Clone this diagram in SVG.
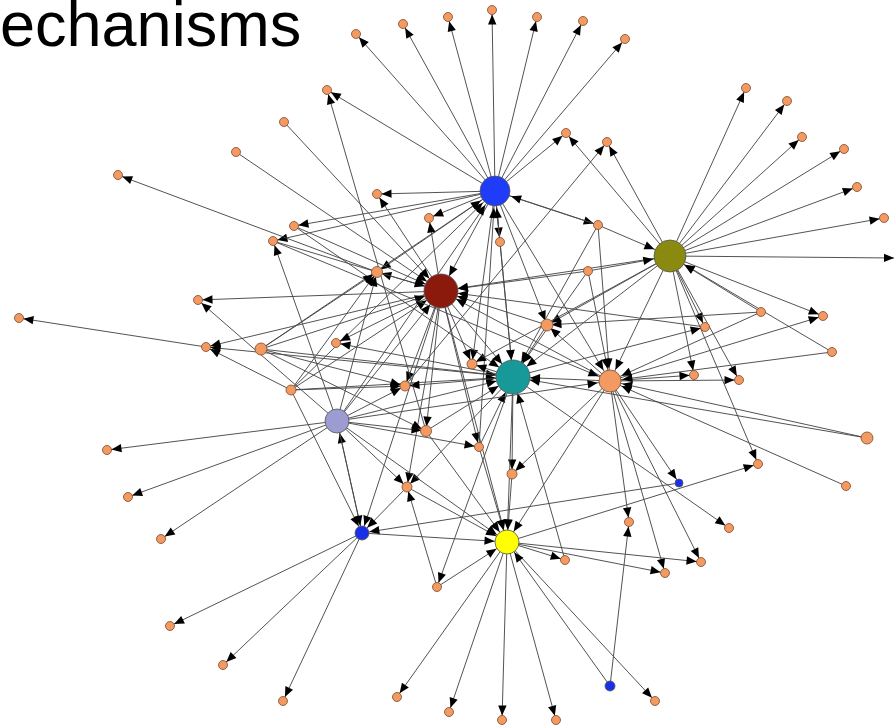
<svg xmlns="http://www.w3.org/2000/svg" width="896" height="727" viewBox="0 0 896 727">
<style>
  .bg{fill:#ffffff}
  .title{font-family:"Liberation Sans",Arial,sans-serif;font-size:63px;fill:#000}
  #edges line{stroke:#4a4a4a;stroke-width:0.95;fill:none}
  #edges .l{marker-end:url(#aL)}
  #edges .s{marker-end:url(#aS)}
  #edges .m{marker-end:url(#aM)}
  #edges .h{marker-end:url(#aH)}
  #edges .x{marker-end:url(#aX)}
  .leaf{fill:#f39a62;stroke:#7a4a2a;stroke-width:0.8}
  .hub{stroke:#555;stroke-width:0.8}
</style>
<defs>
  <!-- arrowheads set back by the radius of the node they point at -->
  <marker id="aL" markerUnits="userSpaceOnUse" markerWidth="20" markerHeight="20" refX="14.5" refY="0" orient="auto" overflow="visible"><path d="M0,-4.2 L10,0 L0,4.2 z" fill="#000"/></marker>
  <marker id="aS" markerUnits="userSpaceOnUse" markerWidth="20" markerHeight="20" refX="17.5" refY="0" orient="auto" overflow="visible"><path d="M0,-4.2 L10,0 L0,4.2 z" fill="#000"/></marker>
  <marker id="aM" markerUnits="userSpaceOnUse" markerWidth="20" markerHeight="20" refX="22.5" refY="0" orient="auto" overflow="visible"><path d="M0,-4.2 L10,0 L0,4.2 z" fill="#000"/></marker>
  <marker id="aH" markerUnits="userSpaceOnUse" markerWidth="20" markerHeight="20" refX="27" refY="0" orient="auto" overflow="visible"><path d="M0,-4.2 L10,0 L0,4.2 z" fill="#000"/></marker>
  <marker id="aX" markerUnits="userSpaceOnUse" markerWidth="20" markerHeight="20" refX="10" refY="0" orient="auto" overflow="visible"><path d="M0,-4.2 L10,0 L0,4.2 z" fill="#000"/></marker>
</defs>
<rect class="bg" x="0" y="0" width="896" height="727"/>
<text class="title" x="0" y="46">echanisms</text>

<g id="edges">
  <!-- blue hub -->
  <line class="l" x1="495" y1="191" x2="356" y2="34"/>
  <line class="l" x1="495" y1="191" x2="403" y2="24"/>
  <line class="l" x1="495" y1="191" x2="448" y2="17"/>
  <line class="l" x1="495" y1="191" x2="492" y2="10"/>
  <line class="l" x1="495" y1="191" x2="537" y2="17"/>
  <line class="l" x1="495" y1="191" x2="583" y2="21"/>
  <line class="l" x1="495" y1="191" x2="625" y2="39"/>
  <line class="l" x1="495" y1="191" x2="327" y2="90"/>
  <line class="l" x1="495" y1="191" x2="377" y2="194"/>
  <line class="l" x1="495" y1="191" x2="429" y2="218"/>
  <line class="l" x1="495" y1="191" x2="500" y2="242"/>
  <line class="l" x1="495" y1="191" x2="598" y2="225"/>
  <line class="l" x1="495" y1="191" x2="566" y2="133"/>
  <line class="l" x1="495" y1="191" x2="294" y2="226"/>
  <line class="l" x1="495" y1="191" x2="273" y2="241"/>
  <line class="h" x1="495" y1="191" x2="441" y2="291"/>
  <line class="l" x1="495" y1="191" x2="472" y2="364"/>
  <line class="l" x1="495" y1="191" x2="547" y2="325"/>
  <line class="h" x1="495" y1="191" x2="513" y2="377"/>
  <line class="l" x1="495" y1="191" x2="377" y2="272"/>
  <line class="m" x1="495" y1="191" x2="610" y2="381"/>
  <line class="h" x1="598" y1="225" x2="495" y2="191"/>
  <line class="h" x1="500" y1="242" x2="495" y2="191"/>
  <line class="h" x1="337" y1="421" x2="495" y2="191"/>
  <line class="h" x1="291" y1="390" x2="495" y2="191"/>
  <line class="h" x1="261" y1="349" x2="495" y2="191"/>
  <line class="h" x1="479" y1="447" x2="495" y2="191"/>
  <!-- dark red hub -->
  <line class="h" x1="284" y1="122" x2="441" y2="291"/>
  <line class="h" x1="236" y1="152" x2="441" y2="291"/>
  <line class="l" x1="441" y1="291" x2="198" y2="300"/>
  <line class="l" x1="441" y1="291" x2="206" y2="347"/>
  <line class="h" x1="261" y1="349" x2="441" y2="291"/>
  <line class="l" x1="441" y1="291" x2="377" y2="272"/>
  <line class="h" x1="588" y1="271" x2="441" y2="291"/>
  <line class="l" x1="441" y1="291" x2="336" y2="343"/>
  <line class="l" x1="441" y1="291" x2="405" y2="386"/>
  <line class="l" x1="441" y1="291" x2="426" y2="431"/>
  <line class="l" x1="441" y1="291" x2="407" y2="487"/>
  <line class="l" x1="441" y1="291" x2="479" y2="447"/>
  <line class="l" x1="441" y1="291" x2="472" y2="364"/>
  <line class="h" x1="441" y1="291" x2="513" y2="377"/>
  <line class="m" x1="441" y1="291" x2="507" y2="542"/>
  <line class="s" x1="441" y1="291" x2="362" y2="533"/>
  <line class="l" x1="441" y1="291" x2="377" y2="194"/>
  <line class="l" x1="441" y1="291" x2="429" y2="218"/>
  <line class="h" x1="294" y1="226" x2="441" y2="291"/>
  <line class="h" x1="273" y1="241" x2="441" y2="291"/>
  <line class="h" x1="337" y1="421" x2="441" y2="291"/>
  <line class="h" x1="291" y1="390" x2="441" y2="291"/>
  <line class="h" x1="547" y1="325" x2="441" y2="291"/>
  <line class="h" x1="610" y1="381" x2="441" y2="291"/>
  <line class="h" x1="670" y1="256" x2="441" y2="291"/>
  <line class="h" x1="705" y1="327" x2="441" y2="291"/>
  <!-- olive hub -->
  <line class="l" x1="670" y1="256" x2="746" y2="88"/>
  <line class="l" x1="670" y1="256" x2="787" y2="101"/>
  <line class="l" x1="670" y1="256" x2="802" y2="137"/>
  <line class="l" x1="670" y1="256" x2="844" y2="149"/>
  <line class="l" x1="670" y1="256" x2="857" y2="187"/>
  <line class="l" x1="670" y1="256" x2="884" y2="218"/>
  <line class="x" x1="670" y1="256" x2="894" y2="258"/>
  <line class="l" x1="670" y1="256" x2="607" y2="142"/>
  <line class="h" x1="598" y1="225" x2="670" y2="256"/>
  <line class="l" x1="670" y1="256" x2="566" y2="133"/>
  <line class="h" x1="588" y1="271" x2="670" y2="256"/>
  <line class="h" x1="761" y1="312" x2="670" y2="256"/>
  <line class="l" x1="670" y1="256" x2="823" y2="316"/>
  <line class="l" x1="670" y1="256" x2="705" y2="327"/>
  <line class="h" x1="832" y1="352" x2="670" y2="256"/>
  <line class="l" x1="670" y1="256" x2="694" y2="375"/>
  <line class="l" x1="670" y1="256" x2="739" y2="380"/>
  <line class="l" x1="670" y1="256" x2="758" y2="464"/>
  <line class="m" x1="670" y1="256" x2="610" y2="381"/>
  <line class="l" x1="670" y1="256" x2="547" y2="325"/>
  <line class="h" x1="670" y1="256" x2="513" y2="377"/>
  <line class="l" x1="670" y1="256" x2="472" y2="364"/>
  <!-- teal hub -->
  <line class="h" x1="547" y1="325" x2="513" y2="377"/>
  <line class="h" x1="500" y1="242" x2="513" y2="377"/>
  <line class="h" x1="588" y1="271" x2="513" y2="377"/>
  <line class="h" x1="610" y1="381" x2="513" y2="377"/>
  <line class="h" x1="426" y1="431" x2="513" y2="377"/>
  <line class="h" x1="479" y1="447" x2="513" y2="377"/>
  <line class="h" x1="337" y1="421" x2="513" y2="377"/>
  <line class="h" x1="261" y1="349" x2="513" y2="377"/>
  <line class="h" x1="291" y1="390" x2="513" y2="377"/>
  <line class="h" x1="294" y1="226" x2="513" y2="377"/>
  <line class="h" x1="565" y1="560" x2="513" y2="377"/>
  <line class="h" x1="598" y1="225" x2="513" y2="377"/>
  <line class="h" x1="867" y1="438" x2="513" y2="377"/>
  <line class="l" x1="513" y1="377" x2="472" y2="364"/>
  <line class="l" x1="513" y1="377" x2="405" y2="386"/>
  <line class="l" x1="513" y1="377" x2="512" y2="474"/>
  <line class="m" x1="513" y1="377" x2="507" y2="542"/>
  <line class="l" x1="513" y1="377" x2="206" y2="347"/>
  <line class="l" x1="513" y1="377" x2="705" y2="327"/>
  <line class="l" x1="513" y1="377" x2="729" y2="528"/>
  <line class="l" x1="513" y1="377" x2="437" y2="587"/>
  <line class="l" x1="513" y1="377" x2="336" y2="343"/>
  <line class="l" x1="513" y1="377" x2="407" y2="487"/>
  <!-- orange hub -->
  <line class="l" x1="610" y1="381" x2="823" y2="316"/>
  <line class="l" x1="610" y1="381" x2="694" y2="375"/>
  <line class="l" x1="610" y1="381" x2="739" y2="380"/>
  <line class="l" x1="610" y1="381" x2="679" y2="483"/>
  <line class="l" x1="610" y1="381" x2="629" y2="522"/>
  <line class="l" x1="610" y1="381" x2="701" y2="562"/>
  <line class="l" x1="610" y1="381" x2="665" y2="573"/>
  <line class="m" x1="610" y1="381" x2="507" y2="542"/>
  <line class="l" x1="610" y1="381" x2="512" y2="474"/>
  <line class="l" x1="610" y1="381" x2="547" y2="325"/>
  <line class="m" x1="761" y1="312" x2="610" y2="381"/>
  <line class="m" x1="832" y1="352" x2="610" y2="381"/>
  <line class="m" x1="867" y1="438" x2="610" y2="381"/>
  <line class="m" x1="846" y1="486" x2="610" y2="381"/>
  <line class="m" x1="588" y1="271" x2="610" y2="381"/>
  <line class="m" x1="598" y1="225" x2="610" y2="381"/>
  <line class="m" x1="337" y1="421" x2="610" y2="381"/>
  <line class="m" x1="273" y1="241" x2="610" y2="381"/>
  <!-- remaining links -->
  <line class="l" x1="377" y1="272" x2="118" y2="175"/>
  <line class="l" x1="206" y1="347" x2="19" y2="318"/>
  <line class="l" x1="337" y1="421" x2="198" y2="300"/>
  <line class="l" x1="291" y1="390" x2="206" y2="347"/>
  <line class="l" x1="261" y1="349" x2="377" y2="272"/>
  <line class="l" x1="426" y1="431" x2="327" y2="90"/>
  <line class="l" x1="405" y1="386" x2="607" y2="142"/>
  <line class="l" x1="761" y1="312" x2="547" y2="325"/>
  <line class="l" x1="337" y1="421" x2="273" y2="241"/>
  <line class="l" x1="291" y1="390" x2="377" y2="272"/>
  <line class="l" x1="337" y1="421" x2="377" y2="272"/>
  <line class="l" x1="337" y1="421" x2="405" y2="386"/>
  <line class="l" x1="337" y1="421" x2="426" y2="431"/>
  <line class="l" x1="337" y1="421" x2="479" y2="447"/>
  <line class="l" x1="337" y1="421" x2="407" y2="487"/>
  <line class="l" x1="261" y1="349" x2="405" y2="386"/>
  <line class="l" x1="291" y1="390" x2="405" y2="386"/>
  <line class="l" x1="261" y1="349" x2="426" y2="431"/>
  <line class="m" x1="362" y1="533" x2="337" y2="421"/>
  <line class="s" x1="337" y1="421" x2="362" y2="533"/>
  <line class="s" x1="291" y1="390" x2="362" y2="533"/>
  <line class="s" x1="407" y1="487" x2="362" y2="533"/>
  <line class="s" x1="679" y1="483" x2="362" y2="533"/>
  <line class="m" x1="362" y1="533" x2="507" y2="542"/>
  <line class="l" x1="362" y1="533" x2="170" y2="626"/>
  <line class="l" x1="362" y1="533" x2="223" y2="665"/>
  <line class="l" x1="362" y1="533" x2="283" y2="701"/>
  <line class="l" x1="337" y1="421" x2="107" y2="450"/>
  <line class="l" x1="337" y1="421" x2="128" y2="497"/>
  <line class="l" x1="337" y1="421" x2="161" y2="539"/>
  <line class="l" x1="507" y1="542" x2="397" y2="697"/>
  <line class="l" x1="507" y1="542" x2="449" y2="712"/>
  <line class="l" x1="507" y1="542" x2="502" y2="720"/>
  <line class="l" x1="507" y1="542" x2="556" y2="720"/>
  <line class="l" x1="507" y1="542" x2="655" y2="701"/>
  <line class="m" x1="610" y1="686" x2="507" y2="542"/>
  <line class="l" x1="507" y1="542" x2="565" y2="560"/>
  <line class="l" x1="507" y1="542" x2="701" y2="562"/>
  <line class="l" x1="507" y1="542" x2="665" y2="573"/>
  <line class="l" x1="507" y1="542" x2="758" y2="464"/>
  <line class="m" x1="437" y1="587" x2="507" y2="542"/>
  <line class="m" x1="407" y1="487" x2="507" y2="542"/>
  <line class="m" x1="426" y1="431" x2="507" y2="542"/>
  <line class="m" x1="479" y1="447" x2="507" y2="542"/>
  <line class="m" x1="512" y1="474" x2="507" y2="542"/>
  <line class="m" x1="337" y1="421" x2="507" y2="542"/>
  <line class="l" x1="437" y1="587" x2="407" y2="487"/>
  <line class="l" x1="610" y1="686" x2="629" y2="522"/>
</g>

<g id="leaves">
  <g id="n1"><circle class="leaf" cx="356" cy="34" r="4.5"/></g>
  <g id="n2"><circle class="leaf" cx="403" cy="24" r="4.5"/></g>
  <g id="n3"><circle class="leaf" cx="448" cy="17" r="4.5"/></g>
  <g id="n4"><circle class="leaf" cx="492" cy="10" r="4.5"/></g>
  <g id="n5"><circle class="leaf" cx="537" cy="17" r="4.5"/></g>
  <g id="n6"><circle class="leaf" cx="583" cy="21" r="4.5"/></g>
  <g id="n7"><circle class="leaf" cx="625" cy="39" r="4.5"/></g>
  <g id="n8"><circle class="leaf" cx="327" cy="90" r="4.5"/></g>
  <g id="n9"><circle class="leaf" cx="284" cy="122" r="4.5"/></g>
  <g id="n10"><circle class="leaf" cx="236" cy="152" r="4.5"/></g>
  <g id="n11"><circle class="leaf" cx="118" cy="175" r="4.5"/></g>
  <g id="n12"><circle class="leaf" cx="566" cy="133" r="4.5"/></g>
  <g id="n13"><circle class="leaf" cx="607" cy="142" r="4.5"/></g>
  <g id="n14"><circle class="leaf" cx="746" cy="88" r="4.5"/></g>
  <g id="n15"><circle class="leaf" cx="787" cy="101" r="4.5"/></g>
  <g id="n16"><circle class="leaf" cx="802" cy="137" r="4.5"/></g>
  <g id="n17"><circle class="leaf" cx="844" cy="149" r="4.5"/></g>
  <g id="n18"><circle class="leaf" cx="857" cy="187" r="4.5"/></g>
  <g id="n19"><circle class="leaf" cx="884" cy="218" r="4.5"/></g>
  <g id="n20"><circle class="leaf" cx="377" cy="194" r="4.5"/></g>
  <g id="n21"><circle class="leaf" cx="429" cy="218" r="4.5"/></g>
  <g id="n22"><circle class="leaf" cx="500" cy="242" r="4.5"/></g>
  <g id="n23"><circle class="leaf" cx="598" cy="225" r="4.5"/></g>
  <g id="n24"><circle class="leaf" cx="294" cy="226" r="4.5"/></g>
  <g id="n25"><circle class="leaf" cx="273" cy="241" r="4.5"/></g>
  <g id="n26"><circle class="leaf" cx="377" cy="272" r="5.5"/></g>
  <g id="n27"><circle class="leaf" cx="588" cy="271" r="4.5"/></g>
  <g id="n28"><circle class="leaf" cx="547" cy="325" r="6"/></g>
  <g id="n29"><circle class="leaf" cx="336" cy="343" r="4.5"/></g>
  <g id="n30"><circle class="leaf" cx="472" cy="364" r="5"/></g>
  <g id="n31"><circle class="leaf" cx="405" cy="386" r="5"/></g>
  <g id="n32"><circle class="leaf" cx="426" cy="431" r="5.5"/></g>
  <g id="n33"><circle class="leaf" cx="479" cy="447" r="4.5"/></g>
  <g id="n34"><circle class="leaf" cx="512" cy="474" r="5"/></g>
  <g id="n35"><circle class="leaf" cx="407" cy="487" r="5"/></g>
  <g id="n36"><circle class="leaf" cx="198" cy="300" r="4.5"/></g>
  <g id="n37"><circle class="leaf" cx="19" cy="318" r="4.5"/></g>
  <g id="n38"><circle class="leaf" cx="206" cy="347" r="4.5"/></g>
  <g id="n39"><circle class="leaf" cx="261" cy="349" r="6"/></g>
  <g id="n40"><circle class="leaf" cx="291" cy="390" r="5"/></g>
  <g id="n41"><circle class="leaf" cx="107" cy="450" r="4.5"/></g>
  <g id="n42"><circle class="leaf" cx="128" cy="497" r="4.5"/></g>
  <g id="n43"><circle class="leaf" cx="161" cy="539" r="4.5"/></g>
  <g id="n44"><circle class="leaf" cx="170" cy="626" r="4.5"/></g>
  <g id="n45"><circle class="leaf" cx="223" cy="665" r="4.5"/></g>
  <g id="n46"><circle class="leaf" cx="283" cy="701" r="4.5"/></g>
  <g id="n47"><circle class="leaf" cx="397" cy="697" r="4.5"/></g>
  <g id="n48"><circle class="leaf" cx="449" cy="712" r="4.5"/></g>
  <g id="n49"><circle class="leaf" cx="502" cy="720" r="4.5"/></g>
  <g id="n50"><circle class="leaf" cx="556" cy="720" r="4.5"/></g>
  <g id="n51"><circle class="leaf" cx="655" cy="701" r="4.5"/></g>
  <g id="n52"><circle class="leaf" cx="565" cy="560" r="4.5"/></g>
  <g id="n53"><circle class="leaf" cx="437" cy="587" r="4.5"/></g>
  <g id="n54"><circle class="leaf" cx="629" cy="522" r="4.5"/></g>
  <g id="n55"><circle class="leaf" cx="729" cy="528" r="4.5"/></g>
  <g id="n56"><circle class="leaf" cx="701" cy="562" r="4.5"/></g>
  <g id="n57"><circle class="leaf" cx="665" cy="573" r="4.5"/></g>
  <g id="n58"><circle class="leaf" cx="761" cy="312" r="4.5"/></g>
  <g id="n59"><circle class="leaf" cx="823" cy="316" r="4.5"/></g>
  <g id="n60"><circle class="leaf" cx="705" cy="327" r="4.5"/></g>
  <g id="n61"><circle class="leaf" cx="832" cy="352" r="4.5"/></g>
  <g id="n62"><circle class="leaf" cx="694" cy="375" r="4.5"/></g>
  <g id="n63"><circle class="leaf" cx="739" cy="380" r="4.5"/></g>
  <g id="n64"><circle class="leaf" cx="867" cy="438" r="6"/></g>
  <g id="n65"><circle class="leaf" cx="758" cy="464" r="4.5"/></g>
  <g id="n66"><circle class="leaf" cx="846" cy="486" r="4.5"/></g>
</g>

<g id="hubs">
  <g id="hub-blue"><circle class="hub" cx="495" cy="191" r="15" fill="#1f3cfa"/></g>
  <g id="hub-red"><circle class="hub" cx="441" cy="291" r="17" fill="#8c1a0c"/></g>
  <g id="hub-olive"><circle class="hub" cx="670" cy="256" r="16" fill="#8b8a10"/></g>
  <g id="hub-teal"><circle class="hub" cx="513" cy="377" r="17" fill="#17999a"/></g>
  <g id="hub-orange"><circle class="leaf" cx="610" cy="381" r="11"/></g>
  <g id="hub-lavender"><circle class="hub" cx="337" cy="421" r="12" fill="#9c9cd2"/></g>
  <g id="hub-yellow"><circle class="hub" cx="507" cy="542" r="12" fill="#ffff00"/></g>
  <g id="blue-small"><circle class="hub" cx="362" cy="533" r="7" fill="#1730e8"/></g>
  <g id="blue-tiny"><circle class="hub" cx="679" cy="483" r="4" fill="#1730e8"/></g>
  <g id="blue-low"><circle class="hub" cx="610" cy="686" r="5" fill="#1730e8"/></g>
</g>
</svg>
